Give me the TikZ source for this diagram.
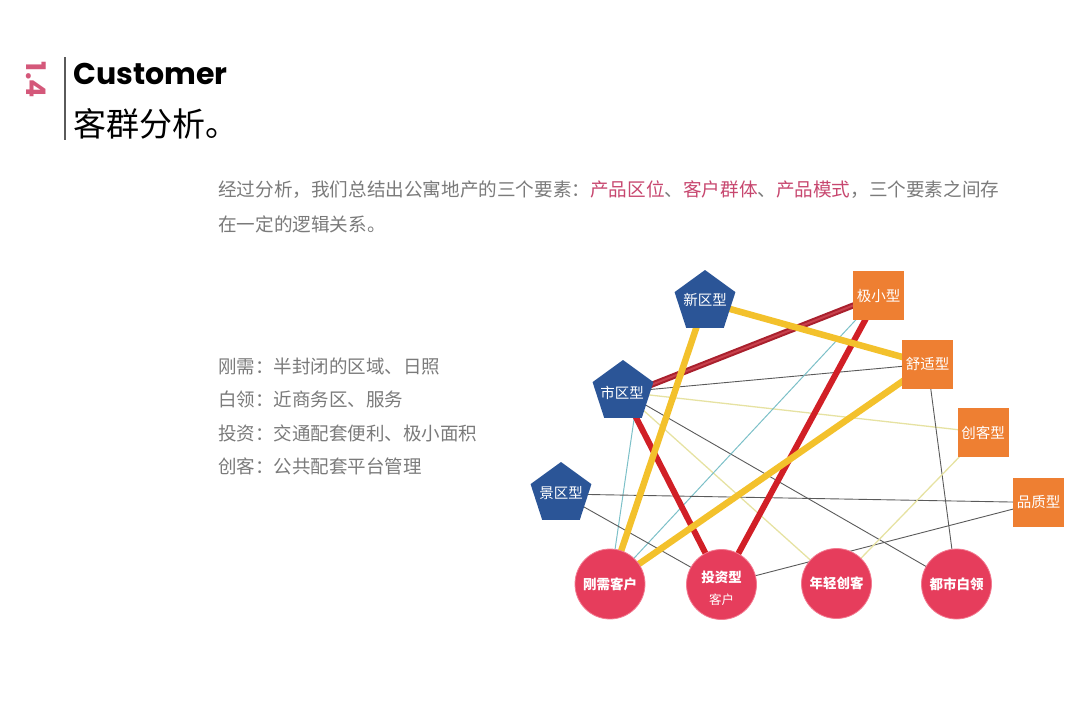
\documentclass[tikz,border=0pt]{standalone}
\usepackage{fontspec}
\setmainfont{Noto Sans CJK SC}
\newfontfamily\popb{Poppins}
\usetikzlibrary{shapes.geometric,backgrounds}
\definecolor{pblue}{HTML}{2B5597}
\definecolor{porange}{HTML}{EE7F32}
\definecolor{pred}{HTML}{E63D5C}
\definecolor{predb}{HTML}{F27A90}
\definecolor{lyel}{HTML}{F3C12C}
\definecolor{lred}{HTML}{D11F26}
\definecolor{ldred}{HTML}{A9202D}
\definecolor{ldred2}{HTML}{C8404C}
\definecolor{lgray}{HTML}{5A5A5A}
\definecolor{lteal}{HTML}{7CC0C8}
\definecolor{lly}{HTML}{E6E2A2}
\definecolor{txtg}{HTML}{7A7A7A}
\definecolor{kpink}{HTML}{C7476F}
\definecolor{numpink}{HTML}{D4587A}
\tikzset{
  pent/.style={regular polygon, regular polygon sides=5, minimum size=64pt, inner sep=0pt, fill=pblue},
  pentlbl/.style={text=white, inner sep=0pt, font=\fontsize{14.5}{16}\selectfont},
  sqbox/.style={rectangle, minimum width=51pt, minimum height=49pt, inner sep=0pt, fill=porange, text=white, font=\fontsize{14.5}{16}\selectfont},
  cnode/.style={circle, minimum size=70pt, inner sep=0pt, fill=pred, draw=predb, line width=0.8pt, text=white, font=\bfseries\fontsize{13.5}{15}\selectfont},
  thY/.style={line width=6.5pt, draw=lyel},
  thR/.style={line width=6pt, draw=lred},
  thDR/.style={line width=6pt, draw=ldred, postaction={draw=ldred2, line width=2pt}},
  tnG/.style={line width=0.9pt, draw=lgray},
  tnT/.style={line width=1pt, draw=lteal},
  tnY/.style={line width=1.3pt, draw=lly},
  bodytxt/.style={anchor=west, inner sep=0pt, text=txtg, font=\fontsize{18.5}{20}\selectfont}
}
\begin{document}
\begin{tikzpicture}[x=1pt,y=-1pt]
\useasboundingbox (0,0) rectangle (1080,704);
% header
\node[rotate=-90, text=numpink, font=\popb\bfseries\fontsize{27}{27}\selectfont] (num) at (36,80) {1.4};
\coordinate (vt) at (65,57);
\coordinate (vb) at (65,140);
\draw[line width=1.2pt, draw=lgray] (vt) -- (vb);
\node[anchor=west, inner sep=0pt, font=\popb\bfseries\fontsize{30}{30}\selectfont] (cust) at (73,74) {Customer};
\node[anchor=west, inner sep=0pt, font=\fontsize{33}{36}\selectfont] (kq) at (73,124) {客群分析。};
% paragraph
\node[bodytxt, font=\fontsize{18.6}{20}\selectfont] (p1) at (218,190) {经过分析，我们总结出公寓地产的三个要素：\textcolor{kpink}{产品区位}、\textcolor{kpink}{客户群体}、\textcolor{kpink}{产品模式}，三个要素之间存};
\node[bodytxt, font=\fontsize{18.6}{20}\selectfont] (p2) at (218,224) {在一定的逻辑关系。};
\node[bodytxt] (l1) at (218,366) {刚需：半封闭的区域、日照};
\node[bodytxt] (l2) at (218,399) {白领：近商务区、服务};
\node[bodytxt] (l3) at (218,433) {投资：交通配套便利、极小面积};
\node[bodytxt] (l4) at (218,466) {创客：公共配套平台管理};
% nodes
\node[pent] (xin) at (705,302) {};
\node[pentlbl] (xinl) at (705,300) {新区型};
\node[pent] (shi) at (623,392) {};
\node[pentlbl] (shil) at (622,393) {市区型};
\node[pent] (jing) at (561,494) {};
\node[pentlbl] (jingl) at (561,493) {景区型};
\node[sqbox] (jx) at (878.5,295.5) {极小型};
\node[sqbox] (ss) at (927.5,364) {舒适型};
\node[sqbox] (ck) at (983,432.5) {创客型};
\node[sqbox] (pz) at (1038.5,502.5) {品质型};
\node[cnode] (gx) at (610,584) {刚需客户};
\node[cnode] (tz) at (721.5,584.5) {};
\node[text=white, inner sep=0pt, align=center, font=\bfseries\fontsize{13.5}{15}\selectfont] (tzl) at (721.5,588) {投资型\\[7pt]{\mdseries\fontsize{12.5}{13}\selectfont 客户}};
\node[cnode] (nq) at (836.5,583.5) {年轻创客};
\node[cnode] (ds) at (956.5,584) {都市白领};
% edges
\begin{scope}[on background layer]
\draw[tnG] (shi.center) -- (ss.center);
\draw[tnY] (shi.center) -- (ck.center);
\draw[tnG] (shi.center) -- (ds.center);
\draw[tnY] (shi.center) -- (nq.center);
\draw[tnT] ([xshift=15pt]shi.center) -- (gx.center);
\draw[tnT] (jx.center) -- (gx.center);
\draw[tnG] (jing.center) -- (pz.center);
\draw[tnG] (jing.center) -- (tz.center);
\draw[tnG] (tz.center) -- (pz.center);
\draw[tnG] (ss.center) -- (ds.center);
\draw[tnY] (ck.center) -- (nq.center);
\draw[thR] (shi.center) -- (tz.center);
\draw[thR] (jx.center) -- (tz.center);
\draw[thDR] ([yshift=-4pt]shi.center) -- (jx.center);
\draw[thY] (xin.center) -- (gx.center);
\draw[thY] (xin.center) -- (ss.center);
\draw[thY] (ss.center) -- (gx.center);
\end{scope}
\end{tikzpicture}
\end{document}
